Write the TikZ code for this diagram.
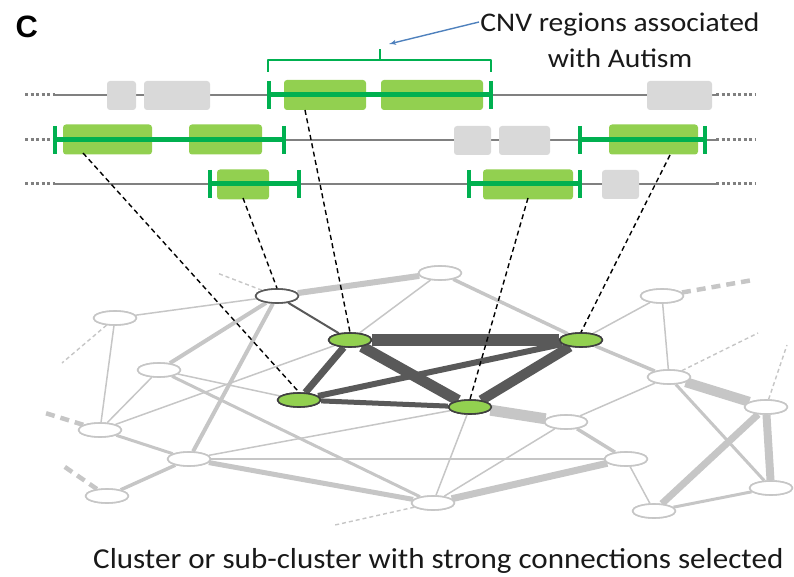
\documentclass[tikz,border=0pt]{standalone}
\usepackage{fontspec}
\setmainfont{Carlito}
\newfontfamily\headfont{Liberation Sans}
\usetikzlibrary{arrows,shapes.geometric,calc}
\definecolor{netgray}{HTML}{C6C6C6}
\definecolor{clusgray}{HTML}{595959}
\definecolor{rimgray}{HTML}{404040}
\definecolor{cnvgreen}{HTML}{92D050}
\definecolor{bargreen}{HTML}{00B050}
\definecolor{blockgray}{HTML}{D9D9D9}
\definecolor{chromgray}{HTML}{808080}
\definecolor{arrowblue}{HTML}{4F81BD}
\newcommand{\widetext}[2][1.1]{\scalebox{#1}[1]{#2}}

\begin{document}
\begin{tikzpicture}[x=1bp,y=-1bp,>=latex',line join=bevel,
  netnode/.style={ellipse,draw=netgray,line width=1.6bp,fill=white,minimum width=43bp,minimum height=14bp,inner sep=0pt},
  topnode/.style={netnode,draw=clusgray},
  hitnode/.style={netnode,draw=rimgray,fill=cnvgreen},
  gedge/.style={draw=netgray,line width=#1},
  cedge/.style={draw=clusgray,line width=#1},
  stub/.style={draw=netgray,line width=1.4bp,dash pattern=on 4bp off 3bp},
  fatstub/.style={draw=netgray,line width=4.5bp,dash pattern=on 9bp off 6bp},
  link/.style={draw=black,line width=1.4bp,dash pattern=on 5bp off 3.5bp},
  chrom/.style={draw=chromgray,line width=2bp},
  chromdots/.style={draw=chromgray,line width=3bp,dash pattern=on 3bp off 2.5bp},
  greyblock/.style={rectangle,rounded corners=3bp,fill=blockgray,minimum height=29bp,inner sep=0pt},
  cnvblock/.style={greyblock,fill=cnvgreen,minimum height=30bp},
  span/.style={draw=bargreen,line width=5bp},
  spantick/.style={draw=bargreen,line width=3.5bp},
  bracket/.style={draw=bargreen,line width=2bp}]
\useasboundingbox (0,0) rectangle (794,577);

% Chromosomes
\coordinate (r1s) at (25,95);  \coordinate (r1l) at (55,95);  \coordinate (r1r) at (716,95);  \coordinate (r1e) at (756,95);
\coordinate (r2s) at (25,140); \coordinate (r2l) at (55,140); \coordinate (r2r) at (716,140); \coordinate (r2e) at (756,140);
\coordinate (r3s) at (25,184); \coordinate (r3l) at (55,184); \coordinate (r3r) at (716,184); \coordinate (r3e) at (756,184);
\foreach \r in {r1,r2,r3} {
  \draw[chromdots] (\r s) -- (\r l);
  \draw[chrom] (\r l) -- (\r r);
  \draw[chromdots] (\r r) -- (\r e);
}
% Blocks
\node[greyblock,minimum width=29bp] (r1a) at (121.5,95.5) {};
\node[greyblock,minimum width=66bp] (r1b) at (177,95.5) {};
\node[greyblock,minimum width=65bp] (r1c) at (679.5,95.5) {};
\node[greyblock,minimum width=37bp] (r2a) at (472.5,140.5) {};
\node[greyblock,minimum width=51bp] (r2b) at (524.5,140.5) {};
\node[greyblock,minimum width=37bp] (r3a) at (620.5,184.5) {};
\node[cnvblock,minimum width=82bp] (r1g) at (325,95) {};
\node[cnvblock,minimum width=102bp] (r1h) at (432,95) {};
\node[cnvblock,minimum width=89bp] (r2g) at (107.5,139.5) {};
\node[cnvblock,minimum width=73bp] (r2h) at (225.5,139.5) {};
\node[cnvblock,minimum width=89bp] (r2k) at (653.5,139.5) {};
\node[cnvblock,minimum width=52bp] (r3g) at (243,184.5) {};
\node[cnvblock,minimum width=90bp] (r3h) at (528,184.5) {};
% CNV spans
\draw[span] (269,95) -- (491,95);
\draw[span] (55,140) -- (284,140);
\draw[span] (580,140) -- (705,140);
\draw[span] (210,184) -- (299,184);
\draw[span] (469,184) -- (580,184);
\foreach \x/\y in {269/95,491/95,55/140,284/140,580/140,705/140,210/184,299/184,469/184,580/184}
  \draw[spantick] (\x,\y-14) -- (\x,\y+14);
% Bracket and label
\draw[bracket] (268,72) -- (268,60) -- (491,60) -- (491,72);
\draw[bracket] (380,60) -- (380,49);
\coordinate (cnvtip) at (389,44);
\node[font=\fontsize{27}{36}\selectfont,align=center,text=black!90] (cnvtext) at (620,40)
  {\widetext{CNV regions associated}\\\widetext{with Autism}};
\draw[->,arrowblue,line width=1.4bp] (479,22) -- (cnvtip);

% Node: network
\node[topnode] (W) at (277,296) {};
\node[netnode] (A) at (115,318) {};
\node[netnode] (B) at (159,370) {};
\node[netnode] (C) at (100,430) {};
\node[netnode] (D) at (189,459) {};
\node[netnode] (E) at (107,496) {};
\node[netnode] (F) at (440,273) {};
\node[netnode] (H) at (662,296) {};
\node[netnode] (I) at (669,377) {};
\node[netnode] (J) at (566,422) {};
\node[netnode] (K) at (766,407) {};
\node[netnode] (L) at (626,459) {};
\node[netnode] (M) at (433,503) {};
\node[netnode] (N) at (654,511) {};
\node[netnode] (O) at (771,488) {};
\node[hitnode] (G1) at (350,340) {};
\node[hitnode] (G2) at (299,400) {};
\node[hitnode] (G3) at (470,407) {};
\node[hitnode] (G4) at (581,340) {};

% Stub ends
\coordinate (wstub) at (217,273);
\coordinate (astub) at (62,363);
\coordinate (cstub) at (42,412);
\coordinate (estub) at (62,465);
\coordinate (hstub) at (753,280);
\coordinate (istub) at (758,333);
\coordinate (kstub) at (787,345);
\coordinate (mstub) at (335,525);

% Edge: grey network
\foreach \a/\b/\w in {W/F/6,W/A/1.5,W/B/4,W/D/4,A/C/1.5,B/C/1.5,B/G2/1.5,B/M/3,C/G1/1.5,C/D/3,
  D/E/3.5,D/G3/1.5,D/L/2.5,D/M/5,F/G1/1.5,F/G4/3.5,G4/H/1.5,G4/I/3.5,H/I/1.5,I/J/1.5,
  I/K/10,I/O/3,K/N/7,K/O/8,O/N/3,L/N/1.5,J/L/3.5,J/M/1.5,G3/J/11,G3/M/1.5,L/M/7}
  \draw[gedge=\w bp] (\a) -- (\b);
\draw[stub] (W) -- (wstub);
\draw[stub] (A) -- (astub);
\draw[fatstub] (C) -- (cstub);
\draw[fatstub] (E) -- (estub);
\draw[fatstub] (H) -- (hstub);
\draw[stub] (I) -- (istub);
\draw[stub] (K) -- (kstub);
\draw[stub] (M) -- (mstub);
% Edge: strong cluster
\foreach \a/\b/\w in {G1/G4/12,G1/G3/11,G3/G4/10,G1/G2/7,G2/G4/6,G2/G3/5,W/G1/2}
  \draw[cedge=\w bp] (\a) -- (\b);
% redraw nodes over edges
\foreach \n/\s in {W/topnode,A/netnode,B/netnode,C/netnode,D/netnode,E/netnode,F/netnode,H/netnode,
  I/netnode,J/netnode,K/netnode,L/netnode,M/netnode,N/netnode,O/netnode,G1/hitnode,G2/hitnode,G3/hitnode,G4/hitnode}
  \node[\s] at (\n) {};

% Edge: CNV -> network
\coordinate (l1) at (83,153);
\coordinate (l2) at (243,198);
\coordinate (l3) at (305,110);
\coordinate (l4) at (528,198);
\coordinate (l5) at (670,155);
\draw[link] (l1) -- (G2.north);
\draw[link] (l2) -- (W.north);
\draw[link] (l3) -- (G1.north);
\draw[link] (l4) -- (G3.north);
\draw[link] (l5) -- (G4.north);

% Labels
\node[anchor=base west,font=\headfont\bfseries\fontsize{31}{31}\selectfont] (panel) at (12,38) {C};
\node[anchor=base west,font=\fontsize{29}{32}\selectfont,text=black!90,inner sep=0pt] (caption) at (93,568)
  {\widetext[1.075]{Cluster or sub-cluster with strong connections selected}};
\end{tikzpicture}
\end{document}
